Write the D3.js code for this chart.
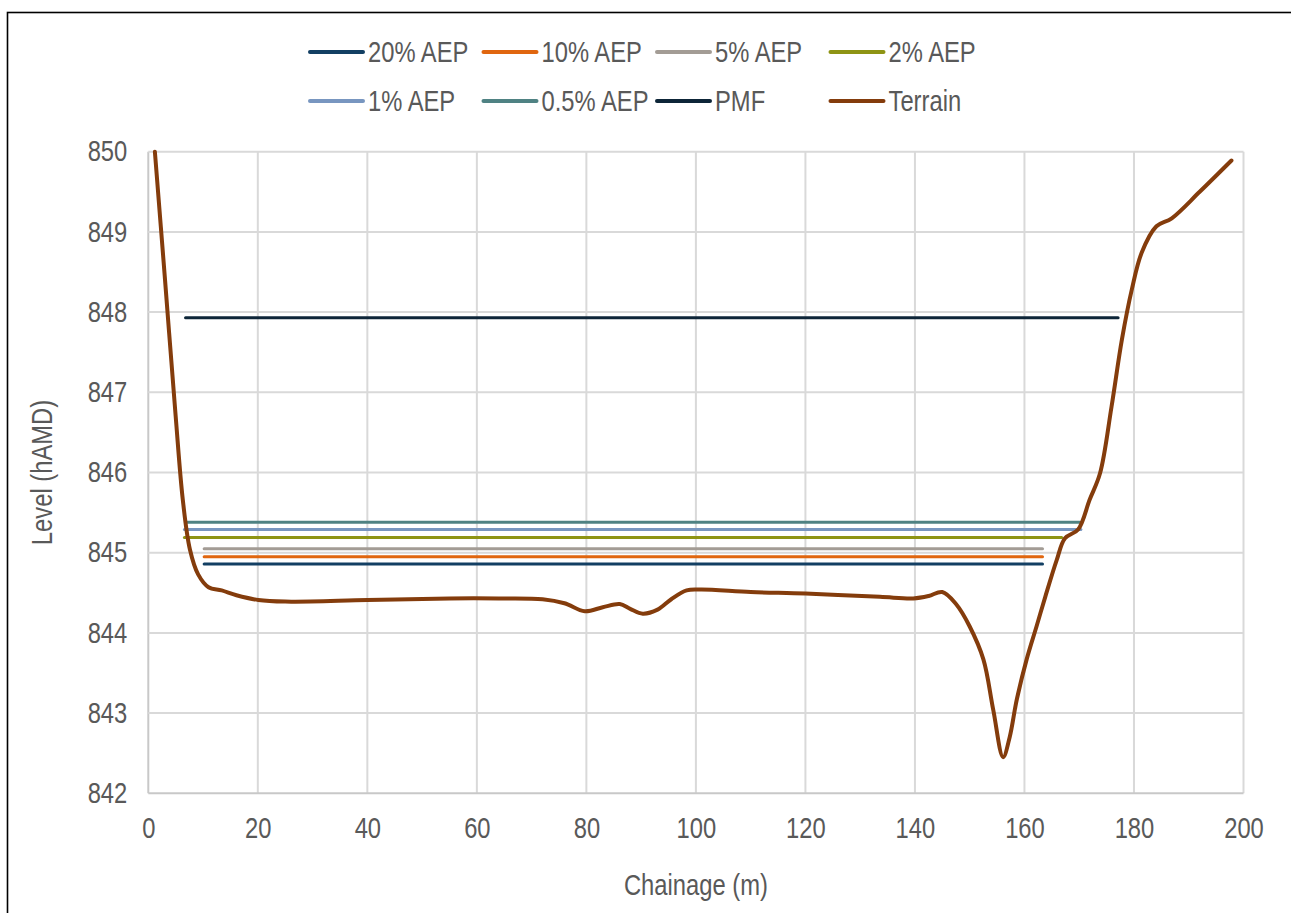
<!DOCTYPE html>
<html>
<head>
<meta charset="utf-8">
<script src="https://cdn.jsdelivr.net/npm/d3@7"></script>
<style>
  html, body { margin: 0; padding: 0; background: #fff; }
  svg { display: block; }
  text { font-family: "Liberation Sans", Arial, sans-serif; fill: #595959; font-size: 29px; }
</style>
</head>
<body>
<svg id="chart" width="1291" height="913"></svg>
<script>
// Flood levels along the cross-section (hAMD) and the extent of each water surface (chainage, m)
const seriesNames  = ["20% AEP", "10% AEP", "5% AEP", "2% AEP", "1% AEP", "0.5% AEP", "PMF", "Terrain"];
const seriesColors = ["#123f63", "#e0660f", "#a39c95", "#8e9414", "#7896c0", "#4f8283", "#0d2538", "#843c0c"];
const floodLevels  = [844.86, 844.95, 845.05, 845.19, 845.29, 845.38, 847.93];
const floodStart   = [10.2, 10.2, 10.2, 6.6, 6.6, 7.0, 6.8];
const floodEnd     = [163.3, 163.3, 163.3, 166.8, 170.3, 170.1, 177.1];

// Ground profile: chainage (m) and level (hAMD)
const terrainChainage = [1.2, 3.0, 5.0, 6.3, 7.6, 9.1, 11.0, 13.4, 16.1, 20.1, 25, 40, 55, 64, 72, 76, 79.7, 83, 86.1, 88, 90.3, 93, 95.5, 98.3, 101, 110, 120, 133.6, 139.7, 142.5, 145, 147.5, 150, 152.5, 154.3, 156.1, 157.3, 158.6, 160.4, 162.2, 163.8, 165.9, 167.4, 169.8, 171.9, 173.8, 175.9, 177.8, 179.6, 181.4, 184.1, 186.9, 192, 197.8];
const terrainLevel    = [850.0, 848.45, 846.7, 845.66, 845.04, 844.73, 844.57, 844.53, 844.47, 844.41, 844.39, 844.41, 844.43, 844.43, 844.42, 844.37, 844.27, 844.32, 844.36, 844.3, 844.24, 844.29, 844.42, 844.53, 844.54, 844.51, 844.49, 844.45, 844.43, 844.46, 844.51, 844.36, 844.08, 843.67, 843.04, 842.45, 842.7, 843.17, 843.67, 844.08, 844.45, 844.91, 845.18, 845.29, 845.66, 845.99, 846.82, 847.66, 848.28, 848.74, 849.07, 849.17, 849.5, 849.89];

const xTicks = [0, 20, 40, 60, 80, 100, 120, 140, 160, 180, 200];
const yTicks = [842, 843, 844, 845, 846, 847, 848, 849, 850];

// Text is drawn horizontally condensed to give a narrow face
const NARROW = 0.82;

const svg = d3.select("#chart");
const W = 1291, H = 913;
const plot = { left: 148.3, right: 1243.5, top: 151.7, bottom: 793.3 };

// Chart frame
svg.append("rect")
  .attr("x", 7.5).attr("y", 12.5)
  .attr("width", W + 10).attr("height", H + 10)
  .attr("fill", "#fff").attr("stroke", "#000").attr("stroke-width", 1.6);

const x = d3.scaleLinear().domain([0, 200]).range([plot.left, plot.right]);
const y = d3.scaleLinear().domain([842, 850]).range([plot.bottom, plot.top]);

// Gridlines
const grid = svg.append("g");
grid.selectAll(".vg").data(xTicks).join("line")
  .attr("x1", d => x(d)).attr("x2", d => x(d))
  .attr("y1", plot.top).attr("y2", plot.bottom)
  .attr("stroke", d => d === 0 ? "#c8c8c8" : "#d9d9d9").attr("stroke-width", 2);
grid.selectAll(".hg").data(yTicks).join("line")
  .attr("x1", plot.left).attr("x2", plot.right)
  .attr("y1", d => y(d)).attr("y2", d => y(d))
  .attr("stroke", d => d === 842 ? "#c8c8c8" : "#d9d9d9").attr("stroke-width", 2);

// Axes (labels only; lines are drawn by the grid)
const xAxis = svg.append("g").attr("transform", `translate(0,${plot.bottom})`)
  .call(d3.axisBottom(x).tickValues(xTicks).tickSize(0).tickPadding(24).tickFormat(d3.format("d")));
xAxis.select(".domain").remove();
xAxis.selectAll("text").attr("fill", "#595959").style("font-size", null)
  .attr("transform", `scale(${NARROW},1)`);

const yAxis = svg.append("g").attr("transform", `translate(${plot.left - 21},0)`)
  .call(d3.axisLeft(y).tickValues(yTicks).tickSize(0).tickPadding(0).tickFormat(d3.format("d")));
yAxis.select(".domain").remove();
yAxis.selectAll("text").attr("fill", "#595959").style("font-size", null)
  .attr("transform", `scale(${NARROW},1)`);

// Axis titles
svg.append("g")
  .attr("transform", `translate(${(plot.left + plot.right) / 2},895) scale(${NARROW},1)`)
  .append("text").attr("text-anchor", "middle")
  .text("Chainage (m)");
svg.append("g")
  .attr("transform", `translate(52,${(plot.top + plot.bottom) / 2}) rotate(-90) scale(${NARROW},1)`)
  .append("text").attr("text-anchor", "middle")
  .text("Level (hAMD)");

// Water surface lines
const line = d3.line().x(d => x(d[0])).y(d => y(d[1]));
floodLevels.forEach((lv, i) => {
  svg.append("path")
    .datum([[floodStart[i], lv], [floodEnd[i], lv]])
    .attr("d", line)
    .attr("fill", "none")
    .attr("stroke", seriesColors[i])
    .attr("stroke-width", 3)
    .attr("stroke-linecap", "round");
});

// Terrain profile
const terrain = terrainChainage.map((c, i) => [c, terrainLevel[i]]);
svg.append("path")
  .datum(terrain)
  .attr("d", d3.line().x(d => x(d[0])).y(d => y(d[1])).curve(d3.curveCatmullRom.alpha(0.5)))
  .attr("fill", "none")
  .attr("stroke", seriesColors[7])
  .attr("stroke-width", 4)
  .attr("stroke-linecap", "round")
  .attr("stroke-linejoin", "round");

// Legend (two rows of four)
const legend = svg.append("g");
seriesNames.forEach((name, i) => {
  const col = i % 4, row = Math.floor(i / 4);
  const lx = 310 + col * 173.5, ly = 52 + row * 49;
  legend.append("line")
    .attr("x1", lx).attr("x2", lx + 53)
    .attr("y1", ly).attr("y2", ly)
    .attr("stroke", seriesColors[i]).attr("stroke-width", 4)
    .attr("stroke-linecap", "round");
  legend.append("g")
    .attr("transform", `translate(${lx + 58},${ly}) scale(${NARROW},1)`)
    .append("text")
    .attr("dy", "0.36em")
    .text(name);
});
</script>
</body>
</html>
